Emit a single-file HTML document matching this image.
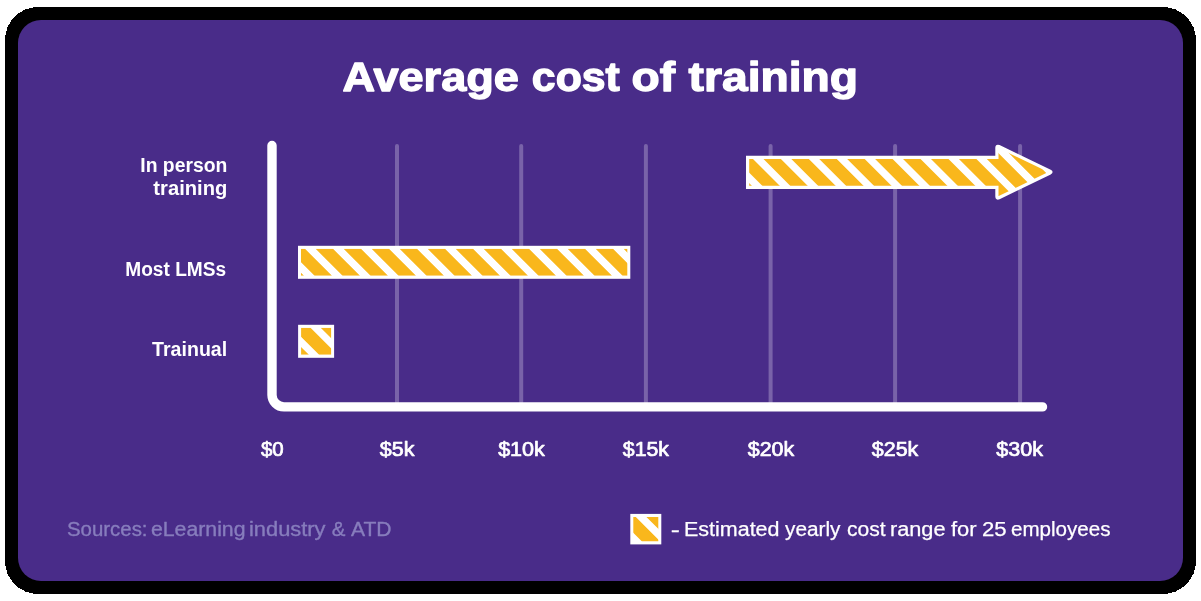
<!DOCTYPE html>
<html>
<head>
<meta charset="utf-8">
<style>
html,body{margin:0;padding:0;background:#fff;width:1201px;height:601px;overflow:hidden;}
svg{display:block;will-change:transform;}
text{font-family:"Liberation Sans", sans-serif;}
</style>
</head>
<body>
<svg width="1201" height="601" viewBox="0 0 1201 601">
<rect x="5" y="7" width="1191" height="587" rx="33" ry="33" fill="#000" shape-rendering="crispEdges"/>
<rect x="18" y="20" width="1165" height="561" rx="23" ry="23" fill="#492c89"/>

<g stroke="#7963a9" stroke-width="4" stroke-linecap="round">
  <line x1="397" y1="146" x2="397" y2="405"/>
  <line x1="521.2" y1="146" x2="521.2" y2="405"/>
  <line x1="645.9" y1="146" x2="645.9" y2="405"/>
  <line x1="770.6" y1="146" x2="770.6" y2="405"/>
  <line x1="895.1" y1="146" x2="895.1" y2="405"/>
  <line x1="1020.1" y1="146" x2="1020.1" y2="405"/>
</g>

<path d="M272,145.5 V395 A12,12 0 0 0 284,406.9 H1042.5" fill="none" stroke="#fff" stroke-width="9.4" stroke-linecap="round"/>

<rect x="298.00" y="245.80" width="332.30" height="33.00" fill="#fff"/>
<clipPath id="cl1"><rect x="301.00" y="248.80" width="326.30" height="27.00"/></clipPath>
<path clip-path="url(#cl1)" fill="#f9b71c" d="M259.60,248.80 L277.00,248.80 L304.00,275.80 L286.60,275.80ZM287.60,248.80 L305.00,248.80 L332.00,275.80 L314.60,275.80ZM315.60,248.80 L333.00,248.80 L360.00,275.80 L342.60,275.80ZM343.60,248.80 L361.00,248.80 L388.00,275.80 L370.60,275.80ZM371.60,248.80 L389.00,248.80 L416.00,275.80 L398.60,275.80ZM399.60,248.80 L417.00,248.80 L444.00,275.80 L426.60,275.80ZM427.60,248.80 L445.00,248.80 L472.00,275.80 L454.60,275.80ZM455.60,248.80 L473.00,248.80 L500.00,275.80 L482.60,275.80ZM483.60,248.80 L501.00,248.80 L528.00,275.80 L510.60,275.80ZM511.60,248.80 L529.00,248.80 L556.00,275.80 L538.60,275.80ZM539.60,248.80 L557.00,248.80 L584.00,275.80 L566.60,275.80ZM567.60,248.80 L585.00,248.80 L612.00,275.80 L594.60,275.80ZM595.60,248.80 L613.00,248.80 L640.00,275.80 L622.60,275.80ZM623.60,248.80 L641.00,248.80 L668.00,275.80 L650.60,275.80Z"/>
<rect x="298.10" y="324.80" width="36.00" height="33.00" fill="#fff"/>
<clipPath id="cl2"><rect x="301.10" y="327.80" width="30.00" height="27.00"/></clipPath>
<path clip-path="url(#cl2)" fill="#f9b71c" d="M263.50,327.80 L281.90,327.80 L308.90,354.80 L290.50,354.80ZM292.10,327.80 L310.50,327.80 L337.50,354.80 L319.10,354.80ZM320.70,327.80 L339.10,327.80 L366.10,354.80 L347.70,354.80Z"/>
<clipPath id="cl3"><path d="M747.60,157.30 L996.90,157.30 L996.90,147.80 Q996.90,145.60 998.88,146.55 L1050.02,171.15 Q1052.00,172.10 1050.02,173.06 L998.88,197.74 Q996.90,198.70 996.90,196.50 L996.90,187.30 L747.60,187.30 Z"/></clipPath>
<path d="M747.60,157.30 L996.90,157.30 L996.90,147.80 Q996.90,145.60 998.88,146.55 L1050.02,171.15 Q1052.00,172.10 1050.02,173.06 L998.88,197.74 Q996.90,198.70 996.90,196.50 L996.90,187.30 L747.60,187.30 Z" fill="#fff"/>
<path clip-path="url(#cl3)" fill="#f9b71c" d="M660.61,140.00 L678.11,140.00 L743.11,205.00 L725.61,205.00ZM688.54,140.00 L706.04,140.00 L771.04,205.00 L753.54,205.00ZM716.47,140.00 L733.97,140.00 L798.97,205.00 L781.47,205.00ZM744.40,140.00 L761.90,140.00 L826.90,205.00 L809.40,205.00ZM772.33,140.00 L789.83,140.00 L854.83,205.00 L837.33,205.00ZM800.26,140.00 L817.76,140.00 L882.76,205.00 L865.26,205.00ZM828.19,140.00 L845.69,140.00 L910.69,205.00 L893.19,205.00ZM856.12,140.00 L873.62,140.00 L938.62,205.00 L921.12,205.00ZM884.05,140.00 L901.55,140.00 L966.55,205.00 L949.05,205.00ZM911.98,140.00 L929.48,140.00 L994.48,205.00 L976.98,205.00ZM939.91,140.00 L957.41,140.00 L1022.41,205.00 L1004.91,205.00ZM967.84,140.00 L985.34,140.00 L1050.34,205.00 L1032.84,205.00ZM995.77,140.00 L1013.27,140.00 L1078.27,205.00 L1060.77,205.00ZM1023.70,140.00 L1041.20,140.00 L1106.20,205.00 L1088.70,205.00ZM1051.63,140.00 L1069.13,140.00 L1134.13,205.00 L1116.63,205.00Z"/>
<path d="M747.60,157.30 L996.90,157.30 L996.90,147.80 Q996.90,145.60 998.88,146.55 L1050.02,171.15 Q1052.00,172.10 1050.02,173.06 L998.88,197.74 Q996.90,198.70 996.90,196.50 L996.90,187.30 L747.60,187.30 Z" fill="none" stroke="#fff" stroke-width="3.2" stroke-linejoin="miter" stroke-miterlimit="10"/>
<rect x="630.30" y="513.90" width="31.00" height="30.50" fill="#fff"/>
<clipPath id="cl4"><rect x="633.30" y="516.90" width="25.00" height="24.50"/></clipPath>
<path clip-path="url(#cl4)" fill="#f9b71c" d="M617.50,516.90 L635.70,516.90 L660.20,541.40 L642.00,541.40ZM646.30,516.90 L664.50,516.90 L689.00,541.40 L670.80,541.40Z"/>
<text x="342.48" y="91.00" font-size="41" font-weight="bold" fill="#fff" textLength="176.44" lengthAdjust="spacingAndGlyphs" stroke="#fff" stroke-width="1.3" stroke-linejoin="round">Average</text>
<text x="531.87" y="91.00" font-size="41" font-weight="bold" fill="#fff" textLength="87.98" lengthAdjust="spacingAndGlyphs" stroke="#fff" stroke-width="1.3" stroke-linejoin="round">cost</text>
<text x="631.60" y="91.00" font-size="41" font-weight="bold" fill="#fff" textLength="43.58" lengthAdjust="spacingAndGlyphs" stroke="#fff" stroke-width="1.3" stroke-linejoin="round">of</text>
<text x="688.59" y="91.00" font-size="41" font-weight="bold" fill="#fff" textLength="169.42" lengthAdjust="spacingAndGlyphs" stroke="#fff" stroke-width="1.3" stroke-linejoin="round">training</text>
<text x="140.32" y="172.00" font-size="19.5" font-weight="bold" fill="#fff" textLength="86.97" lengthAdjust="spacingAndGlyphs">In person</text>
<text x="153.39" y="195.30" font-size="19.5" font-weight="bold" fill="#fff" textLength="73.96" lengthAdjust="spacingAndGlyphs">training</text>
<text x="125.28" y="276.00" font-size="19.5" font-weight="bold" fill="#fff" textLength="100.81" lengthAdjust="spacingAndGlyphs">Most LMSs</text>
<text x="152.10" y="355.80" font-size="19.5" font-weight="bold" fill="#fff" textLength="75.09" lengthAdjust="spacingAndGlyphs">Trainual</text>
<text x="260.93" y="455.60" font-size="20" font-weight="normal" fill="#fff" textLength="22.77" lengthAdjust="spacingAndGlyphs" stroke="#fff" stroke-width="0.7" stroke-linejoin="round">$0</text>
<text x="379.74" y="455.60" font-size="20" font-weight="normal" fill="#fff" textLength="34.67" lengthAdjust="spacingAndGlyphs" stroke="#fff" stroke-width="0.7" stroke-linejoin="round">$5k</text>
<text x="498.17" y="455.60" font-size="20" font-weight="normal" fill="#fff" textLength="46.66" lengthAdjust="spacingAndGlyphs" stroke="#fff" stroke-width="0.7" stroke-linejoin="round">$10k</text>
<text x="622.87" y="455.60" font-size="20" font-weight="normal" fill="#fff" textLength="46.13" lengthAdjust="spacingAndGlyphs" stroke="#fff" stroke-width="0.7" stroke-linejoin="round">$15k</text>
<text x="747.76" y="455.60" font-size="20" font-weight="normal" fill="#fff" textLength="46.42" lengthAdjust="spacingAndGlyphs" stroke="#fff" stroke-width="0.7" stroke-linejoin="round">$20k</text>
<text x="871.81" y="455.60" font-size="20" font-weight="normal" fill="#fff" textLength="46.49" lengthAdjust="spacingAndGlyphs" stroke="#fff" stroke-width="0.7" stroke-linejoin="round">$25k</text>
<text x="996.28" y="455.60" font-size="20" font-weight="normal" fill="#fff" textLength="46.78" lengthAdjust="spacingAndGlyphs" stroke="#fff" stroke-width="0.7" stroke-linejoin="round">$30k</text>
<text x="66.96" y="536.00" font-size="19.5" font-weight="normal" fill="#877dbd" textLength="80.59" lengthAdjust="spacingAndGlyphs" stroke="#877dbd" stroke-width="0.35" stroke-linejoin="round">Sources:</text>
<text x="150.97" y="536.00" font-size="19.5" font-weight="normal" fill="#877dbd" textLength="94.55" lengthAdjust="spacingAndGlyphs" stroke="#877dbd" stroke-width="0.35" stroke-linejoin="round">eLearning</text>
<text x="248.97" y="536.00" font-size="19.5" font-weight="normal" fill="#877dbd" textLength="76.56" lengthAdjust="spacingAndGlyphs" stroke="#877dbd" stroke-width="0.35" stroke-linejoin="round">industry</text>
<text x="331.89" y="536.00" font-size="19.5" font-weight="normal" fill="#877dbd" textLength="13.67" lengthAdjust="spacingAndGlyphs" stroke="#877dbd" stroke-width="0.35" stroke-linejoin="round">&amp;</text>
<text x="350.96" y="536.00" font-size="19.5" font-weight="normal" fill="#877dbd" textLength="40.59" lengthAdjust="spacingAndGlyphs" stroke="#877dbd" stroke-width="0.35" stroke-linejoin="round">ATD</text>
<text x="670.83" y="537.00" font-size="19.5" font-weight="normal" fill="#fff" textLength="9.12" lengthAdjust="spacingAndGlyphs" stroke="#fff" stroke-width="0.25" stroke-linejoin="round">-</text>
<text x="683.95" y="536.00" font-size="19.5" font-weight="normal" fill="#fff" textLength="95.59" lengthAdjust="spacingAndGlyphs" stroke="#fff" stroke-width="0.25" stroke-linejoin="round">Estimated</text>
<text x="784.99" y="536.00" font-size="19.5" font-weight="normal" fill="#fff" textLength="55.55" lengthAdjust="spacingAndGlyphs" stroke="#fff" stroke-width="0.25" stroke-linejoin="round">yearly</text>
<text x="847.00" y="536.00" font-size="19.5" font-weight="normal" fill="#fff" textLength="38.63" lengthAdjust="spacingAndGlyphs" stroke="#fff" stroke-width="0.25" stroke-linejoin="round">cost</text>
<text x="889.92" y="536.00" font-size="19.5" font-weight="normal" fill="#fff" textLength="55.66" lengthAdjust="spacingAndGlyphs" stroke="#fff" stroke-width="0.25" stroke-linejoin="round">range</text>
<text x="950.96" y="536.00" font-size="19.5" font-weight="normal" fill="#fff" textLength="25.62" lengthAdjust="spacingAndGlyphs" stroke="#fff" stroke-width="0.25" stroke-linejoin="round">for</text>
<text x="981.95" y="536.00" font-size="19.5" font-weight="normal" fill="#fff" textLength="24.64" lengthAdjust="spacingAndGlyphs" stroke="#fff" stroke-width="0.25" stroke-linejoin="round">25</text>
<text x="1010.99" y="536.00" font-size="19.5" font-weight="normal" fill="#fff" textLength="99.52" lengthAdjust="spacingAndGlyphs" stroke="#fff" stroke-width="0.25" stroke-linejoin="round">employees</text>
</svg>
</body>
</html>
